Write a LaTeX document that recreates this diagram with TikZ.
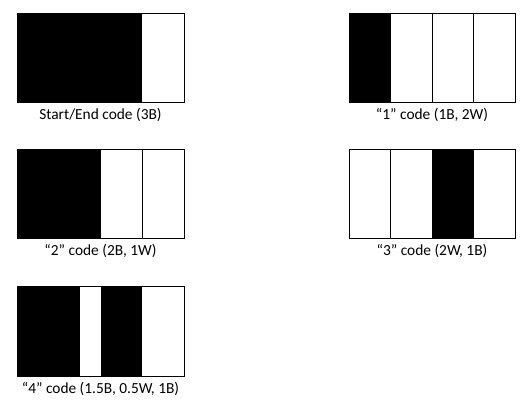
\documentclass[tikz,border=0pt]{standalone}
\usepackage{fontspec}
\setmainfont{Carlito}
\begin{document}
\begin{tikzpicture}[x=1pt,y=-1pt,line width=0.8pt,
    bar/.style={fill=black},
    caption/.style={anchor=base,inner sep=0pt,font=\fontsize{15.4}{17}\selectfont}]
    \useasboundingbox (0,0) rectangle (531,403);
    % start/end code
        \coordinate (SE1) at (17,13);
        \coordinate (SE2) at (184,102);
        \fill[bar] (SE1) rectangle (142.25,102);
        \draw (SE1) rectangle (SE2);
        \draw node[caption] (capSE) at (100.5,119.5){Start/End code (3B)};
    % code 1
        \coordinate (A1) at (349,13);
        \coordinate (A2) at (515,102);
        \fill[bar] (A1) rectangle (390.5,102);
        \draw (A1) rectangle (A2);
        \foreach \x in {390.5,432,473.5} \draw (\x,13) -- (\x,102);
        \draw node[caption] (capA) at (432,119.5){“1” code (1B, 2W)};
    % code 2
        \coordinate (B1) at (17,149);
        \coordinate (B2) at (184,238);
        \fill[bar] (B1) rectangle (100.5,238);
        \draw (B1) rectangle (B2);
        \draw (142.25,149) -- (142.25,238);
        \draw node[caption] (capB) at (100.5,255.5){“2” code (2B, 1W)};
    % code 3
        \coordinate (C1) at (349,149);
        \coordinate (C2) at (515,238);
        \fill[bar] (432,149) rectangle (473.5,238);
        \draw (C1) rectangle (C2);
        \draw (390.5,149) -- (390.5,238);
        \draw node[caption] (capC) at (432,255.5){“3” code (2W, 1B)};
    % code 4
        \coordinate (D1) at (17,286);
        \coordinate (D2) at (184,376);
        \fill[bar] (D1) rectangle (79.6,376);
        \fill[bar] (100.5,286) rectangle (142.25,376);
        \draw (D1) rectangle (D2);
        \draw node[caption] (capD) at (100.5,393.5){“4” code (1.5B, 0.5W, 1B)};
\end{tikzpicture}
\end{document}
